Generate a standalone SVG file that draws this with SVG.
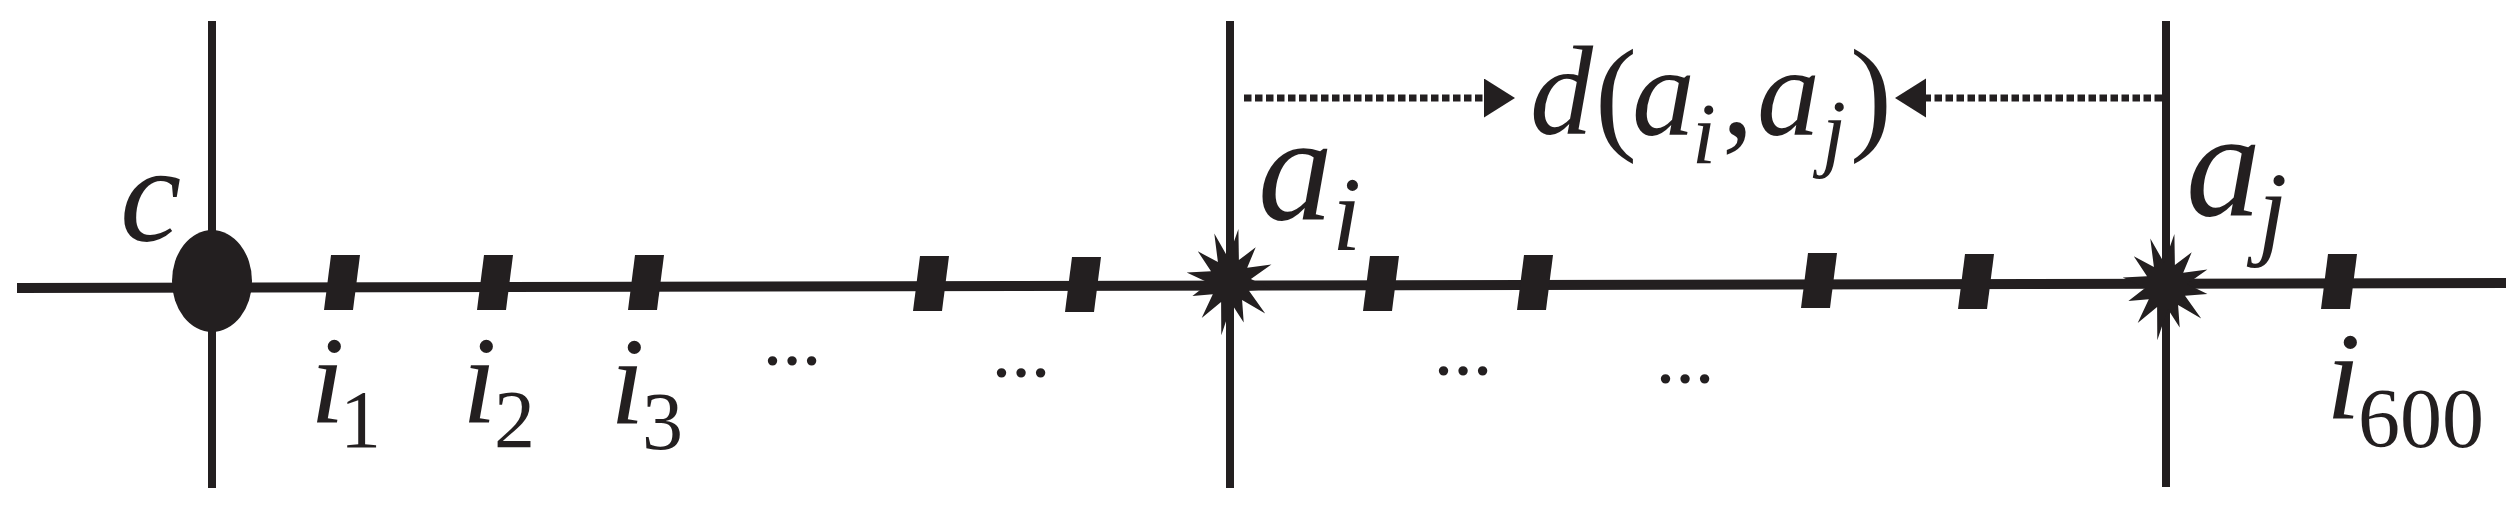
<svg xmlns="http://www.w3.org/2000/svg" width="2520" height="505" viewBox="0 0 2520 505">
  <style>
    .ln { stroke: #231f20; fill: none; }
    .ax { stroke-width: 10; }
    .vx { stroke-width: 8; }
    .dot { stroke: #231f20; stroke-width: 7; stroke-dasharray: 7.5 3.5; fill: none; }
    .fill { fill: #231f20; }
    .it { font-family: "Liberation Serif", "Times New Roman", serif; font-style: italic; fill: #231f20; }
    .up { font-family: "Liberation Serif", "Times New Roman", serif; font-style: normal; fill: #231f20; }
    .ell { font-family: "Liberation Serif", "Times New Roman", serif; font-weight: bold; fill: #231f20; font-size: 58px; }
  </style>
  <defs>
    <path id="tick" d="M -10 0 L 19 0 L 12 55 L -17 55 Z" fill="#231f20"/>
    <polygon id="star" fill="#231f20" points="8.4,-52 8.9,-20.9 25.7,-33.7 17.2,-13.3 41.4,-16.6 20.9,-2 41.4,8 19,9.8 35.2,32.5 12.1,18.9 13.7,41.4 1.8,23 -8.7,54.2 -8.9,20.9 -28.3,37.1 -17.2,13.3 -37.6,15 -20.9,2 -43.3,-8.4 -19,-9.8 -32.2,-29.7 -12.1,-18.9 -15.7,-47.6 -1.8,-23"/>
    <marker id="head" markerUnits="userSpaceOnUse" markerWidth="32" markerHeight="40" refX="1" refY="19.5" orient="auto" viewBox="0 0 32 40">
      <path d="M0,0 L31,19.5 L0,39 Z" fill="#231f20"/>
    </marker>
  </defs>

  <rect width="2520" height="505" fill="#ffffff"/>

  <g id="axes">
    <line class="ln ax" x1="17" y1="288" x2="2506" y2="283"/>
    <line class="ln vx" x1="212" y1="21" x2="212" y2="488"/>
    <line class="ln vx" x1="1230" y1="21" x2="1230" y2="488"/>
    <line class="ln vx" x1="2166" y1="21" x2="2166" y2="487"/>
  </g>

  <g id="node-c">
    <ellipse cx="212" cy="281" rx="40" ry="51" class="fill"/>
    <text class="it" x="120" y="241" font-size="138">c</text>
  </g>

  <g id="item-ticks">
    <use href="#tick" x="341" y="255"/>
    <use href="#tick" x="494" y="255"/>
    <use href="#tick" x="645" y="255"/>
    <use href="#tick" x="930" y="256"/>
    <use href="#tick" x="1082" y="257"/>
    <use href="#tick" x="1380" y="256"/>
    <use href="#tick" x="1534" y="255"/>
    <use href="#tick" x="1818" y="253"/>
    <use href="#tick" x="1975" y="254"/>
    <use href="#tick" x="2338" y="254"/>
  </g>

  <g id="label-i1">
    <text class="it" x="310" y="423" font-size="125">i</text>
    <text class="up" x="340" y="447" font-size="82">1</text>
  </g>
  <g id="label-i2">
    <text class="it" x="462" y="423" font-size="125">i</text>
    <text class="up" x="494" y="447" font-size="82">2</text>
  </g>
  <g id="label-i3">
    <text class="it" x="610" y="424" font-size="125">i</text>
    <text class="up" x="642" y="449" font-size="82">3</text>
  </g>
  <g id="label-i600">
    <text class="it" x="2326" y="419" font-size="125">i</text>
    <text class="up" x="2358" y="447" font-size="84">600</text>
  </g>

  <g id="ellipses">
    <text class="ell" x="763" y="365">…</text>
    <text class="ell" x="992" y="377">…</text>
    <text class="ell" x="1434" y="375">…</text>
    <text class="ell" x="1656" y="383">…</text>
  </g>

  <g id="node-ai">
    <use href="#star" x="1230" y="281"/>
    <text class="it" x="1258" y="219" font-size="150">a</text>
    <text class="it" x="1332" y="250" font-size="105">i</text>
  </g>

  <g id="node-aj">
    <use href="#star" x="2166" y="286"/>
    <text class="it" x="2186" y="215" font-size="150">a</text>
    <text class="it" x="2258" y="245" font-size="105">j</text>
  </g>

  <g id="label-distance">
    <text class="it" x="1530" y="134" font-size="126">d</text>
    <text class="up" x="1595" y="137" font-size="126">(</text>
    <text class="it" x="1632" y="135" font-size="126">a</text>
    <text class="it" x="1692" y="163" font-size="86">i</text>
    <text class="up" x="1722" y="135" font-size="126">,</text>
    <text class="it" x="1757" y="135" font-size="126">a</text>
    <text class="it" x="1822" y="160" font-size="86">j</text>
    <text class="up" x="1850" y="137" font-size="126">)</text>
  </g>

  <g id="connectors">
    <line class="dot" x1="1244" y1="98" x2="1485" y2="98" marker-end="url(#head)"/>
    <line class="dot" x1="2162" y1="98" x2="1925" y2="98" marker-end="url(#head)"/>
  </g>
</svg>
